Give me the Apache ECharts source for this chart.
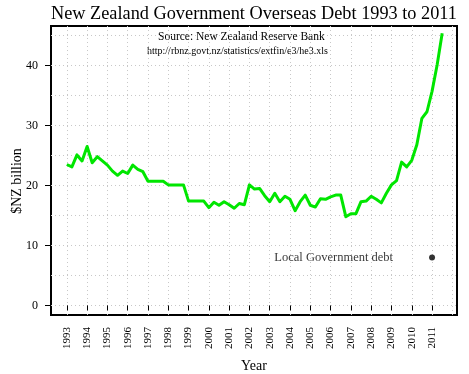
<!DOCTYPE html>
<html>
<head>
<meta charset="utf-8">
<script src="https://cdn.jsdelivr.net/npm/echarts@6/dist/echarts.min.js"></script>
<style>html,body{margin:0;padding:0;background:#fff}#c{width:469px;height:374px}</style>
</head>
<body>
<div id="c"></div>
<script>
// Quarter positions (decimal years)
var quarters = [
  1993.00,1993.25,1993.50,1993.75,1994.00,1994.25,1994.50,1994.75,
  1995.00,1995.25,1995.50,1995.75,1996.00,1996.25,1996.50,1996.75,
  1997.00,1997.25,1997.50,1997.75,1998.00,1998.25,1998.50,1998.75,
  1999.00,1999.25,1999.50,1999.75,2000.00,2000.25,2000.50,2000.75,
  2001.00,2001.25,2001.50,2001.75,2002.00,2002.25,2002.50,2002.75,
  2003.00,2003.25,2003.50,2003.75,2004.00,2004.25,2004.50,2004.75,
  2005.00,2005.25,2005.50,2005.75,2006.00,2006.25,2006.50,2006.75,
  2007.00,2007.25,2007.50,2007.75,2008.00,2008.25,2008.50,2008.75,
  2009.00,2009.25,2009.50,2009.75,2010.00,2010.25,2010.50,2010.75,
  2011.00,2011.25,2011.50
];
// Government overseas debt, $NZ billion
var overseasDebt = [
  23.5,23.1,25.1,24.1,26.5,23.8,24.8,24.1,
  23.4,22.4,21.7,22.4,22.0,23.4,22.7,22.3,
  20.7,20.7,20.7,20.7,20.1,20.1,20.1,20.1,
  17.4,17.4,17.4,17.4,16.3,17.2,16.7,17.3,
  16.8,16.2,17.0,16.8,20.1,19.4,19.5,18.3,
  17.3,18.7,17.3,18.2,17.7,15.8,17.3,18.4,
  16.7,16.4,17.8,17.7,18.1,18.4,18.4,14.8,
  15.3,15.3,17.3,17.4,18.2,17.7,17.1,18.7,
  20.1,20.8,23.9,23.1,24.2,26.8,31.2,32.3,
  35.7,40.1,45.4
];
// Local government debt point
var localDebtYear = [2011.0];
var localDebtValue = [8.0];
var localDebtLabel = 'Local Government debt';

// Ticks
var yearTicks = [1993,1994,1995,1996,1997,1998,1999,2000,2001,2002,2003,2004,2005,2006,2007,2008,2009,2010,2011];
var yearGrid = [1993,1994,1995,1996,1997,1998,1999,2000,2001,2002,2003,2004,2005,2006,2007,2008,2009,2010,2011,2012];
var valueTicks = [0,10,20,30,40];
var valueGrid = [0,5,10,15,20,25,30,35,40,45];

var titleText = 'New Zealand Government Overseas Debt 1993 to 2011';
var sourceText = 'Source: New Zealand Reserve Bank';
var urlText = 'http://rbnz.govt.nz/statistics/extfin/e3/he3.xls';
var yAxisTitle = '$NZ billion';

var FONT = 'Liberation Serif';
var xMin = 1992.22, xMax = 2012.23, yMin = -1.6, yMax = 46.6;

var chart = echarts.init(document.getElementById('c'), null, {renderer: 'canvas'});
var gridStyle = {show: true, lineStyle: {color: '#c8c8c8', width: 1, type: [1, 3]}};

chart.setOption({
  animation: false,
  backgroundColor: '#fff',
  title: {
    text: titleText, left: 46, top: 0,
    textStyle: {fontFamily: FONT, fontSize: 18.3, fontWeight: 'normal', color: '#000'}
  },
  grid: {left: 51, right: 12, top: 26, bottom: 59, show: true, borderColor: '#000', borderWidth: 2, backgroundColor: 'transparent', outerBoundsMode: 'none', containLabel: false},
  graphic: [
    {type: 'text', left: 158, top: 31, style: {text: sourceText, font: '11.5px "Liberation Serif"', fill: '#000'}},
    {type: 'text', left: 147, top: 46, style: {text: urlText, font: '10px "Liberation Serif"', fill: '#000'}},
    {type: 'text', x: 17, y: 181, rotation: Math.PI / 2,
      style: {text: yAxisTitle, font: '14px "Liberation Serif"', fill: '#000', align: 'center', verticalAlign: 'middle'}}
  ],
  xAxis: [{
    type: 'value', min: xMin, max: xMax,
    name: 'Year', nameLocation: 'middle', nameGap: 44,
    nameTextStyle: {fontFamily: FONT, fontSize: 14, color: '#000'},
    axisLine: {show: false},
    axisTick: {show: true, length: 5, lineStyle: {color: '#000'}, customValues: yearTicks},
    axisLabel: {rotate: 90, margin: 12, fontFamily: FONT, fontSize: 11, color: '#000', customValues: yearTicks, formatter: function (v) { return String(v); }},
    splitLine: {show: false}
  }, {
    type: 'value', min: xMin, max: xMax, position: 'bottom',
    axisLine: {show: false}, axisLabel: {show: false},
    axisTick: {show: false, customValues: yearGrid},
    splitLine: gridStyle
  }],
  yAxis: [{
    type: 'value', min: yMin, max: yMax,
    axisLine: {show: false},
    axisTick: {show: true, length: 6, lineStyle: {color: '#000'}, customValues: valueTicks},
    axisLabel: {margin: 13, fontFamily: FONT, fontSize: 12, color: '#000', customValues: valueTicks},
    splitLine: {show: false}
  }, {
    type: 'value', min: yMin, max: yMax, position: 'left',
    axisLine: {show: false}, axisLabel: {show: false},
    axisTick: {show: false, customValues: valueGrid},
    splitLine: gridStyle
  }],
  series: [{
    type: 'line',
    xAxisIndex: 0, yAxisIndex: 0,
    data: quarters.map(function (q, i) { return [q, overseasDebt[i]]; }),
    showSymbol: false, symbol: 'none',
    lineStyle: {color: '#00e600', width: 3, join: 'round'},
    z: 5
  }, {
    type: 'scatter',
    xAxisIndex: 0, yAxisIndex: 0,
    data: localDebtYear.map(function (y, i) { return [y, localDebtValue[i]]; }),
    symbolSize: 6,
    itemStyle: {color: '#000'},
    label: {show: true, position: 'left', distance: 36, formatter: localDebtLabel, fontFamily: FONT, fontSize: 12.5, color: '#000'},
    z: 6
  }]
});
</script>
</body>
</html>
